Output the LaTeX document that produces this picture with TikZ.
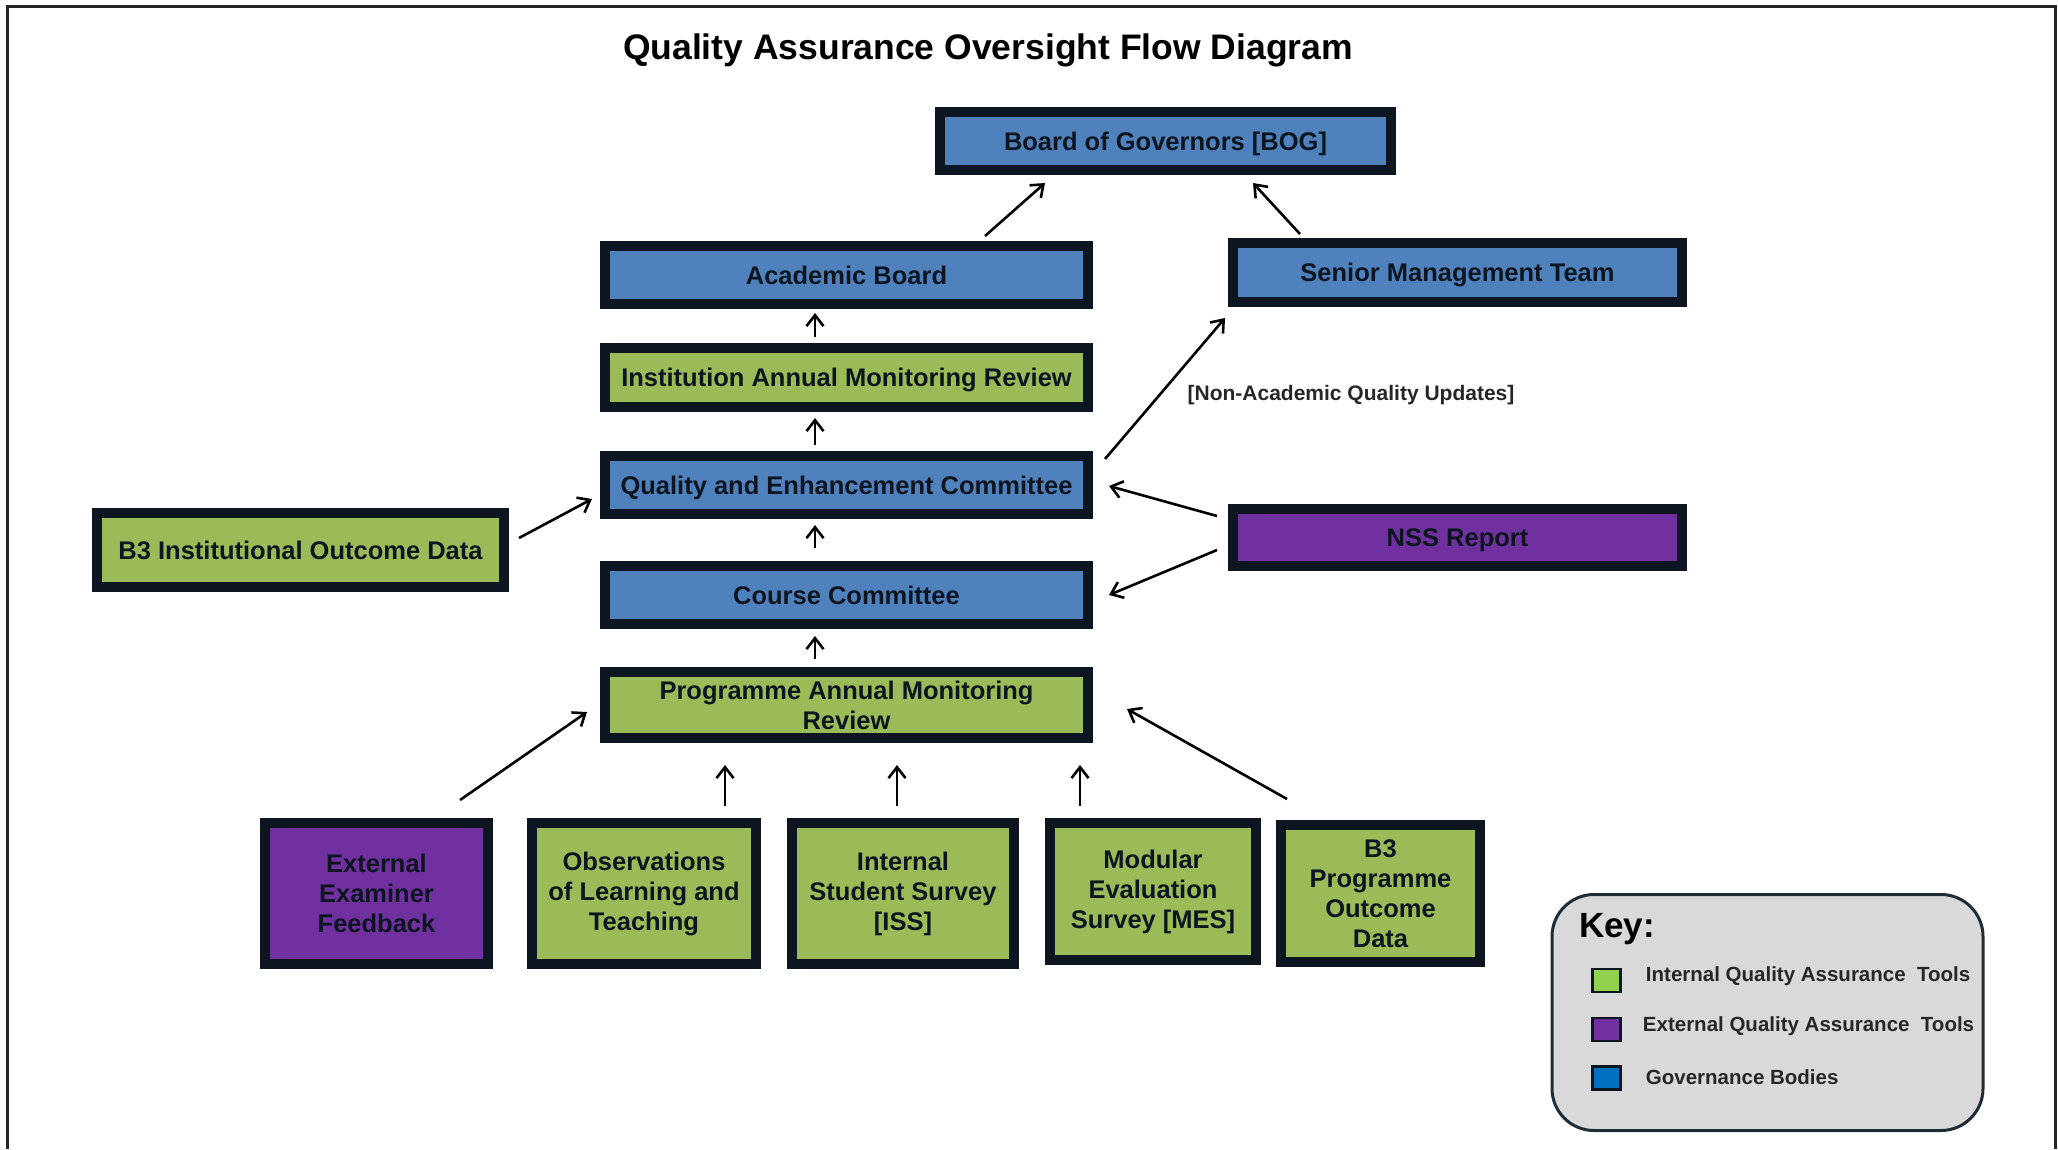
\documentclass[tikz,border=0pt]{standalone}
\usepackage{fontspec}
\setmainfont{Liberation Sans}
\usetikzlibrary{arrows.meta, calc, positioning}
\definecolor{qaline}{RGB}{13,21,32}
\definecolor{govblue}{RGB}{79,129,189}
\definecolor{intgreen}{RGB}{155,187,89}
\definecolor{extpurple}{RGB}{112,48,160}
\definecolor{keygreen}{RGB}{146,208,80}
\definecolor{keyblue}{RGB}{0,112,192}
\definecolor{keygrey}{RGB}{217,217,217}
\definecolor{keyedge}{RGB}{30,44,56}
\colorlet{cFrame}{black!85}

\tikzset{
  qabox/.style={draw=qaline, line width=10pt, align=center, inner sep=0pt,
    font=\fontsize{25.5}{30}\selectfont\bfseries, text=qaline},
  oneline/.style={text height=18.5pt, text depth=0pt},
  govbody/.style={qabox, fill=govblue},
  inttool/.style={qabox, fill=intgreen},
  exttool/.style={qabox, fill=extpurple},
  flow/.style={line width=2.6pt, -{Straight Barb[length=11pt, width=17pt]}},
  swatch/.style={draw=qaline, line width=2.5pt, minimum width=28pt,
    minimum height=23pt, inner sep=0pt},
  keytext/.style={inner sep=0pt, text=black!85,
    font=\fontsize{20.5}{25}\selectfont\bfseries},
}

\begin{document}
\begin{tikzpicture}[x=1pt, y=-1pt]
  \useasboundingbox (0,0) rectangle (2058,1149);
  % frame, open at the bottom
  \draw[cFrame, line width=3pt] (7,1149) -- (7,6) -- (2055,6) -- (2055,1149);
  \node[font=\fontsize{35.5}{40}\selectfont\bfseries] (title) at (988,50)
    {Quality Assurance Oversight Flow Diagram};

  % governance chain
  \node[govbody, oneline, minimum width=451, minimum height=58] (bog) at (1165.5,141) {Board of Governors [BOG]};
  \node[govbody, oneline, minimum width=483, minimum height=58] (ab) at (846.5,275) {Academic Board};
  \node[govbody, oneline, minimum width=449, minimum height=59] (smt) at (1457.5,272.5) {Senior Management Team};
  \node[inttool, oneline, minimum width=483, minimum height=59] (iamr) at (846.5,377.5) {Institution Annual Monitoring Review};
  \node[govbody, oneline, minimum width=483, minimum height=58] (qec) at (846.5,485) {Quality and Enhancement Committee};
  \node[inttool, oneline, minimum width=407, minimum height=74] (b3i) at (300.5,550) {B3 Institutional Outcome Data};
  \node[exttool, oneline, minimum width=449, minimum height=57] (nss) at (1457.5,537.5) {NSS Report};
  \node[govbody, oneline, minimum width=483, minimum height=58] (cc) at (846.5,595) {Course Committee};
  \node[inttool, minimum width=483, minimum height=66] (pamr) at (846.5,705) {Programme Annual Monitoring\\Review};

  % quality tools feeding the programme review
  \node[exttool, minimum width=223, minimum height=141] (eef) at (376.5,893.5) {External\\Examiner\\Feedback};
  \node[inttool, minimum width=224, minimum height=141] (olt) at (644,893.5) {Observations\\of Learning and\\Teaching};
  \node[inttool, minimum width=222, minimum height=141] (iss) at (903,893.5) {Internal\\Student Survey\\{[ISS]}};
  \node[inttool, minimum width=206, minimum height=137] (mes) at (1153,891.5) {Modular\\Evaluation\\Survey [MES]};
  \node[inttool, minimum width=199, minimum height=137] (b3p) at (1380.5,893.5) {B3\\Programme\\Outcome\\Data};

  % flows upwards
  \draw[flow] ($(ab.north)+(138.5,-5)$) -- ($(bog.south)+(-120.5,8)$);
  \draw[flow] ($(smt.north)+(-157.5,-4)$) -- ($(bog.south)+(87.5,8)$);
  \draw[flow] ($(iamr.north)+(-31.5,-6)$) -- ($(ab.south)+(-31.5,4)$);
  \draw[flow] ($(qec.north)+(-31.5,-6)$) -- ($(iamr.south)+(-31.5,6)$);
  \draw[flow] ($(cc.north)+(-31.5,-13)$) -- ($(qec.south)+(-31.5,6)$);
  \draw[flow] ($(pamr.north)+(-31.5,-8)$) -- ($(cc.south)+(-31.5,7)$);
  \draw[flow] ($(b3i.east)+(10,-12)$) -- ($(qec.west)+(-8,14)$);
  \draw[flow] ($(qec.east)+(12,-26)$) -- ($(smt.south west)+(-3,11)$);
  \node[keytext, font=\fontsize{21}{25}\selectfont\bfseries] (nonacad) at (1351,395)
    {[Non-Academic Quality Updates]};
  \draw[flow] ($(nss.west)+(-11,-21.5)$) -- ($(qec.east)+(16,1)$);
  \draw[flow] ($(nss.west)+(-11,12.5)$) -- ($(cc.east)+(16,0)$);
  \draw[flow] ($(eef.north)+(83.5,-18)$) -- ($(pamr.west)+(-13,7)$);
  \draw[flow] ($(olt.north)+(81,-12)$) -- ($(pamr.south)+(-121.5,22)$);
  \draw[flow] ($(iss.north)+(-6,-12)$) -- ($(pamr.south)+(50.5,22)$);
  \draw[flow] ($(mes.north)+(-73,-12)$) -- ($(pamr.south)+(233.5,22)$);
  \draw[flow] ($(b3p.north)+(-93.5,-21)$) -- ($(pamr.east)+(34,4)$);

  % key
  \node[draw=keyedge, line width=3pt, fill=keygrey, rounded corners=42pt,
    minimum width=431, minimum height=236] (key) at (1767.5,1012.5) {};
  \node[anchor=west, inner sep=0pt, font=\fontsize{35}{40}\selectfont\bfseries] (keyhead) at (1579,929) {Key:};
  \node[swatch, fill=keygreen] (swint) at (1606.5,980.5) {};
  \node[swatch, fill=extpurple] (swext) at (1606.5,1029.5) {};
  \node[swatch, fill=keyblue] (swgov) at (1606.5,1078) {};
  \node[keytext, right=24pt of swint, yshift=4pt] (kint) {Internal Quality Assurance\ \ Tools};
  \node[keytext, right=21pt of swext, yshift=3pt] (kext) {External Quality Assurance\ \ Tools};
  \node[keytext, right=24pt of swgov, yshift=1pt] (kgov) {Governance Bodies};
\end{tikzpicture}
\end{document}
